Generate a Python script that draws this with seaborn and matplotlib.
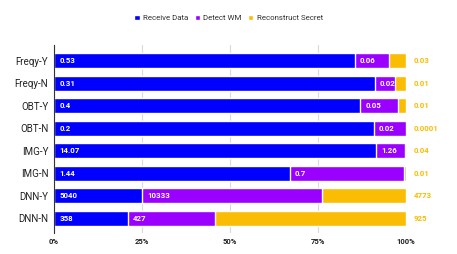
import numpy as np
import pandas as pd
import matplotlib
matplotlib.use("Agg")
import matplotlib.pyplot as plt
import seaborn as sns

sns.set_theme(style="white")
plt.rcParams["font.family"] = ["Roboto", "DejaVu Sans"]

categories = ["Freqy-Y", "Freqy-N", "OBT-Y", "OBT-N", "IMG-Y", "IMG-N", "DNN-Y", "DNN-N"]
receive_data = [0.53, 0.31, 0.4, 0.2, 14.07, 1.44, 5040, 358]
detect_wm = [0.06, 0.02, 0.05, 0.02, 1.26, 0.7, 10333, 427]
reconstruct = [0.03, 0.01, 0.01, 0.0001, 0.04, 0.01, 4773, 925]

c_blue = "#0000FF"
c_purple = "#9900FF"
c_gold = "#FBBC04"

r = np.array(receive_data, dtype=float)
d = np.array(detect_wm, dtype=float)
s = np.array(reconstruct, dtype=float)
total = r + d + s

# 100% stacked: draw cumulative shares from the back to the front
df = pd.DataFrame({
    "cat": categories,
    "p1": r / total * 100,
    "p2": (r + d) / total * 100,
    "p3": (r + d + s) / total * 100,
})

fig, ax = plt.subplots(figsize=(4.57, 2.54), dpi=100)
fig.subplots_adjust(left=0.118, right=0.888, top=0.823, bottom=0.083)

w = 0.67
sns.barplot(data=df, x="p3", y="cat", color=c_gold, width=w, saturation=1, ax=ax, label="Reconstruct Secret")
sns.barplot(data=df, x="p2", y="cat", color=c_purple, width=w, saturation=1, ax=ax, label="Detect WM")
sns.barplot(data=df, x="p1", y="cat", color=c_blue, width=w, saturation=1, ax=ax, label="Receive Data")

for i in range(len(categories)):
    ax.text(1.5, i, str(receive_data[i]), color="white", fontsize=5.7,
            fontweight="bold", va="center", ha="left")
    ax.text(df["p1"][i] + 1.5, i, str(detect_wm[i]), color="white", fontsize=5.7,
            fontweight="bold", va="center", ha="left")
    ax.text(102.3, i, str(reconstruct[i]), color=c_gold, fontsize=5.7,
            fontweight="bold", va="center", ha="left", clip_on=False)

ax.set_xlim(0, 100)
ax.set_ylim(7.65, -0.7)
ax.set_xticks([0, 25, 50, 75, 100])
ax.set_xticklabels(["0%", "25%", "50%", "75%", "100%"], fontsize=5.5, fontweight="bold", color="#222222")
ax.tick_params(axis="x", length=0, pad=4)
ax.tick_params(axis="y", length=0, pad=4, labelsize=7, labelcolor="#222222")
ax.set_xlabel("")
ax.set_ylabel("")
ax.grid(axis="x", color="#d9d9d9", linewidth=0.8)
ax.set_axisbelow(True)
for side in ["top", "right", "bottom"]:
    ax.spines[side].set_visible(False)
ax.spines["left"].set_color("#333333")
ax.spines["left"].set_linewidth(0.8)

handles, labels = ax.get_legend_handles_labels()
order = [labels.index(l) for l in ["Receive Data", "Detect WM", "Reconstruct Secret"]]
ax.legend([handles[k] for k in order], [labels[k] for k in order], loc="center",
          bbox_to_anchor=(0.5, 0.93), bbox_transform=fig.transFigure, ncol=3, frameon=False,
          fontsize=5.7, handlelength=0.7, handleheight=0.7, handletextpad=0.4, columnspacing=0.8,
          labelcolor="#333333")

plt.savefig("out.png", dpi=100)
